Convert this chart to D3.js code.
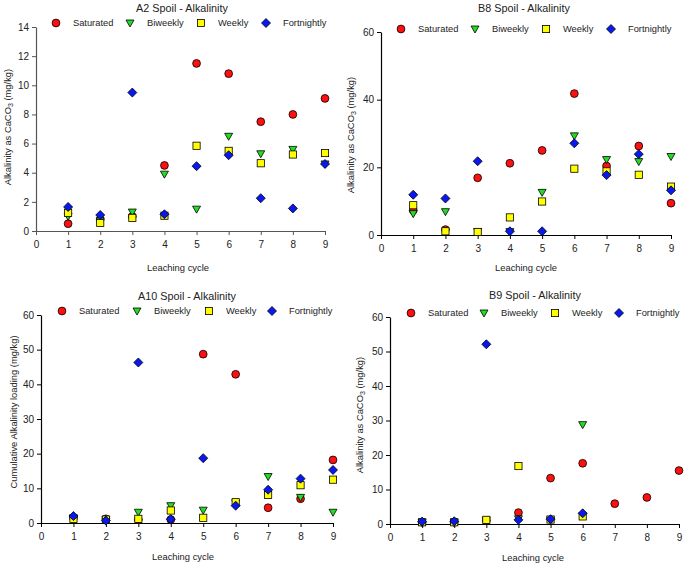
<!DOCTYPE html>
<html>
<head>
<meta charset="utf-8">
<script src="https://cdn.jsdelivr.net/npm/d3@7"></script>
<style>
  body { margin: 0; background: #fff; }
  text { font-family: "Liberation Sans", Arial, sans-serif; fill: #222; }
</style>
</head>
<body>
<svg id="mainSVG" width="685" height="563"></svg>
<script>
// data
var cycles = [1, 2, 3, 4, 5, 6, 7, 8, 9];
var seriesNames = ["Saturated", "Biweekly", "Weekly", "Fortnightly"];

var a2Saturated   = [0.5, 0.8, 1.0, 4.5, 11.5, 10.8, 7.5, 8.0, 9.1];
var a2Biweekly    = [1.0, 0.7, 1.3, 3.9, 1.5, 6.5, 5.3, 5.6, 4.6];
var a2Weekly      = [1.25, 0.55, 0.9, 1.05, 5.85, 5.5, 4.65, 5.25, 5.35];
var a2Fortnightly = [1.65, 1.1, 9.5, 1.15, 4.45, 5.2, 2.25, 1.55, 4.6];

var b8Saturated   = [7.3, 1.6, 16.9, 21.2, 25.0, 41.8, 20.4, 26.3, 9.4];
var b8Biweekly    = [6.3, 6.9, 1.0, 1.0, 12.6, 29.3, 22.3, 21.7, 23.2];
var b8Weekly      = [8.8, 1.1, 0.9, 5.2, 9.9, 19.6, 18.8, 17.8, 14.3];
var b8Fortnightly = [11.9, 10.8, 21.8, 1.1, 1.1, 27.1, 17.7, 23.9, 13.2];

var a10Saturated   = [1.5, 1.2, 1.0, 1.0, 48.7, 42.9, 4.4, 7.0, 18.2];
var a10Biweekly    = [1.5, 1.0, 3.1, 5.0, 3.7, 5.8, 13.4, 7.4, 3.1];
var a10Weekly      = [1.2, 1.0, 1.2, 3.6, 1.5, 6.0, 8.1, 10.9, 12.5];
var a10Fortnightly = [2.0, 0.7, 46.3, 1.1, 18.7, 5.0, 9.6, 12.8, 15.3];

var b9Saturated   = [0.5, 0.5, 1.0, 3.3, 13.3, 17.6, 5.9, 7.7, 15.5];
var b9Biweekly    = [0.5, 0.5, 1.0, 1.5, 1.2, 28.8, null, null, null];
var b9Weekly      = [0.5, 0.5, 1.2, 16.8, 1.3, 2.2, null, null, null];
var b9Fortnightly = [0.7, 0.8, 52.1, 1.2, 1.4, 3.1, null, null, null];

var colors = {Saturated: "#ff1010", Biweekly: "#22dd22", Weekly: "#ffff00", Fortnightly: "#0a18f0"};
var symbols = {Saturated: "circle", Biweekly: "triangle", Weekly: "square", Fortnightly: "diamond"};

var panels = [
  {title: "A2 Spoil - Alkalinity", ylabel: "caco3", series: [a2Saturated, a2Biweekly, a2Weekly, a2Fortnightly],
   yMax: 14, yStep: 2, x0: 36, x1: 325, y0: 231, y1: 27, axisColor: "#555",
   titlePos: [182, 8], legendY: 23, legendX: [56, 130, 201, 266], ylabPos: [7, 127], xlabPos: [178, 267]},
  {title: "B8 Spoil - Alkalinity", ylabel: "caco3", series: [b8Saturated, b8Biweekly, b8Weekly, b8Fortnightly],
   yMax: 60, yStep: 20, x0: 381, x1: 671, y0: 235, y1: 32, axisColor: "#000",
   titlePos: [524, 8], legendY: 29, legendX: [401, 475, 546, 611], ylabPos: [350, 135], xlabPos: [526, 267]},
  {title: "A10 Spoil - Alkalinity", ylabel: "Cumulative Alkalinity loading (mg/kg)", series: [a10Saturated, a10Biweekly, a10Weekly, a10Fortnightly],
   yMax: 60, yStep: 10, x0: 41, x1: 333, y0: 523, y1: 315, axisColor: "#000",
   titlePos: [187, 296], legendY: 311, legendX: [62, 137, 209, 272], ylabPos: [13, 412], xlabPos: [183, 556]},
  {title: "B9 Spoil - Alkalinity", ylabel: "caco3", series: [b9Saturated, b9Biweekly, b9Weekly, b9Fortnightly],
   yMax: 60, yStep: 10, x0: 390, x1: 679, y0: 524, y1: 317, axisColor: "#000",
   titlePos: [535, 295], legendY: 313, legendX: [411, 484, 555, 619], ylabPos: [359, 415], xlabPos: [533, 557]}
];

var svg = d3.select("#mainSVG");

function drawMarker(g, type, cx, cy, fill) {
  var m;
  if (type === "circle") {
    m = g.append("circle").attr("cx", cx).attr("cy", cy).attr("r", 3.9);
  } else if (type === "square") {
    m = g.append("rect").attr("x", cx - 3.6).attr("y", cy - 3.6).attr("width", 7.2).attr("height", 7.2);
  } else if (type === "triangle") {
    m = g.append("path").attr("d", "M" + (cx - 4) + "," + (cy - 3) + "L" + (cx + 4) + "," + (cy - 3) + "L" + cx + "," + (cy + 4) + "Z");
  } else {
    m = g.append("path").attr("d", "M" + cx + "," + (cy - 4.5) + "L" + (cx + 4.5) + "," + cy + "L" + cx + "," + (cy + 4.5) + "L" + (cx - 4.5) + "," + cy + "Z");
  }
  m.attr("fill", fill).attr("stroke", "#000").attr("stroke-width", 0.8);
}

panels.forEach(function(p) {
  var g = svg.append("g");
  var x = d3.scaleLinear().domain([0, 9]).range([p.x0, p.x1]);
  var y = d3.scaleLinear().domain([0, p.yMax]).range([p.y0, p.y1]);

  var xAxis = d3.axisBottom(x).tickValues(d3.range(0, 10)).tickSize(4).tickSizeOuter(0).tickPadding(6);
  var yAxis = d3.axisLeft(y).tickValues(d3.range(0, p.yMax + 0.001, p.yStep)).tickSize(4).tickSizeOuter(0).tickPadding(3);

  var gx = g.append("g").attr("transform", "translate(0," + p.y0 + ")").call(xAxis);
  var gy = g.append("g").attr("transform", "translate(" + p.x0 + ",0)").call(yAxis);
  [gx, gy].forEach(function(a) {
    a.select(".domain").attr("stroke", p.axisColor).attr("stroke-width", 1.2);
    a.selectAll(".tick line").attr("stroke", p.axisColor);
    a.selectAll(".tick text").attr("fill", "#222").style("font-size", "10px")
      .style("font-family", "'Liberation Sans', Arial, sans-serif");
  });

  g.append("text").attr("x", p.titlePos[0]).attr("y", p.titlePos[1])
    .attr("text-anchor", "middle").attr("dominant-baseline", "central")
    .style("font-size", "10.8px").text(p.title);

  g.append("text").attr("x", p.xlabPos[0]).attr("y", p.xlabPos[1])
    .attr("text-anchor", "middle").attr("dominant-baseline", "central")
    .style("font-size", "9.4px").text("Leaching cycle");

  var yl = g.append("text")
    .attr("transform", "translate(" + p.ylabPos[0] + "," + p.ylabPos[1] + ") rotate(-90)")
    .attr("text-anchor", "middle").attr("dominant-baseline", "central")
    .style("font-size", "9.4px");
  if (p.ylabel === "caco3") {
    yl.append("tspan").text("Alkalinity as CaCO");
    yl.append("tspan").attr("baseline-shift", "sub").style("font-size", "7px").text("3");
    yl.append("tspan").text(" (mg/kg)");
  } else {
    yl.text(p.ylabel);
  }

  // legend
  seriesNames.forEach(function(name, i) {
    drawMarker(g, symbols[name], p.legendX[i], p.legendY, colors[name]);
    g.append("text").attr("x", p.legendX[i] + 17).attr("y", p.legendY)
      .attr("dominant-baseline", "central").style("font-size", "9.3px").text(name);
  });

  // points
  p.series.forEach(function(vals, si) {
    var name = seriesNames[si];
    vals.forEach(function(v, i) {
      if (v === null) return;
      drawMarker(g, symbols[name], x(cycles[i]), y(v), colors[name]);
    });
  });
});
</script>
</body>
</html>
